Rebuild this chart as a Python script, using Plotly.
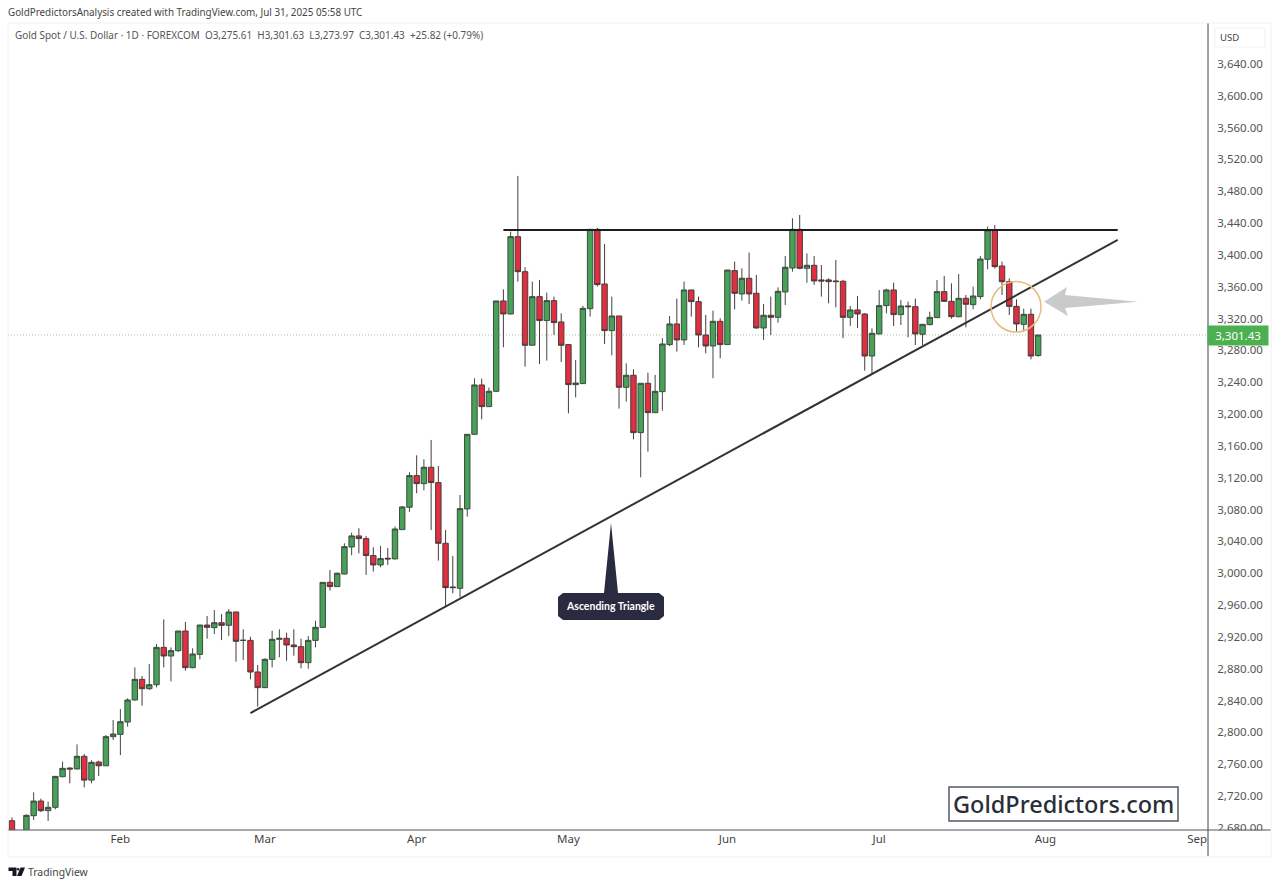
#!/usr/bin/env python3

# import modules
import plotly.graph_objs as go

# daily candles, one value per bar
opens = [2689, 2655, 2665, 2695.3, 2713.7, 2701.6, 2705.8, 2744.3, 2755.2, 2754,
         2769.9, 2740, 2762.7, 2758, 2794.6, 2797.5, 2813, 2840.7, 2866.6, 2854.9,
         2859.9, 2906.8, 2896, 2902.7, 2927.4, 2881.3, 2898, 2934.9, 2931.6, 2937.8,
         2934.5, 2951.3, 2915.6, 2915.6, 2875.9, 2856.2, 2891.8, 2916.9, 2918.2, 2909.8,
         2907.7, 2887.6, 2915.6, 2932, 2988.6, 2983.2, 2999, 3033, 3046.9, 3043.5,
         3022.2, 3010.4, 3018.8, 3018, 3054.8, 3082.9, 3122.7, 3112.6, 3133.2, 3113.9,
         3037.6, 2982.7, 2981, 3080.8, 3174.6, 3236.6, 3209.4, 3228.6, 3342.2, 3325.8,
         3423, 3379, 3286.5, 3347.6, 3317.5, 3342.6, 3315.8, 3287.3, 3237, 3238.3,
         3332.5, 3432.2, 3363.5, 3304.9, 3323.3, 3233.7, 3248.8, 3176.7, 3238.7, 3201.8,
         3228.2, 3287.3, 3313.3, 3293.2, 3356, 3341.3, 3299.4, 3285.6, 3316.6, 3287.3,
         3380.3, 3351, 3370.7, 3351.8, 3308.2, 3324.2, 3321.6, 3353.5, 3383.6, 3432.2,
         3383.2, 3387, 3368.6, 3368.6, 3367.3, 3366.9, 3321.6, 3330.9, 3325.8, 3273,
         3300.7, 3336.3, 3356, 3325, 3335.9, 3335, 3300.3, 3312.4, 3321.2, 3353.9,
         3341.7, 3322.4, 3345.5, 3337.5, 3347.6, 3394.5, 3431.4, 3386.1, 3366.4, 3335.4,
         3312.8, 3325.4, 3273.6]
highs = [2693, 2677, 2697, 2724.6, 2716.7, 2712.9, 2745, 2763.2, 2756, 2785,
         2772.8, 2765, 2764.4, 2796.7, 2815.5, 2829.3, 2842.8, 2881.7, 2870.8, 2885.9,
         2911, 2942, 2906.8, 2927.4, 2938.7, 2905.6, 2934.9, 2946.2, 2953.8, 2948.7,
         2955, 2951.3, 2929.5, 2920.2, 2884.6, 2893, 2927.8, 2929.5, 2925.3, 2929.5,
         2917.7, 2921, 2940.4, 2988.6, 3004, 3000.8, 3037.6, 3051, 3056.5, 3046.9,
         3032.6, 3034.3, 3031.8, 3058.6, 3084.6, 3126.9, 3148.2, 3143.2, 3167.5, 3134.8,
         3054.4, 3021.7, 3098.4, 3174.6, 3245, 3244.6, 3233.3, 3342.2, 3356.8, 3429.3,
         3499.3, 3384.5, 3366.5, 3368.6, 3352.6, 3347.6, 3326.7, 3288, 3268, 3336,
         3432.2, 3434, 3413.8, 3347.6, 3323.3, 3263.8, 3256.3, 3238.7, 3252.1, 3249.2,
         3295.3, 3323.3, 3345.1, 3366.5, 3356, 3347.6, 3324.6, 3330, 3320.4, 3381.1,
         3391.6, 3383.2, 3402.9, 3374.8, 3338.4, 3347.6, 3359.3, 3398.7, 3446, 3450.2,
         3402, 3398.7, 3387.4, 3370.7, 3393.7, 3368.6, 3335.9, 3348.5, 3326.7, 3307.8,
         3356, 3357.6, 3365.2, 3343.4, 3341.3, 3345.1, 3312.8, 3328.7, 3368.5, 3373.6,
         3364.3, 3376.1, 3349.7, 3360.1, 3398.7, 3435.6, 3437.6, 3391.6, 3370.6, 3344.2,
         3332.5, 3332.5, 3299.6]
lows = [2660, 2650, 2660, 2689.9, 2699.9, 2688.6, 2703.3, 2743.5, 2736, 2753.5,
        2730.9, 2736, 2745, 2757.7, 2790.4, 2771.5, 2807.2, 2839.8, 2833.5, 2853.2,
        2856.6, 2881.7, 2864.1, 2901, 2877.5, 2880.5, 2891.8, 2917.7, 2923.6, 2916,
        2921, 2888.8, 2891, 2866.6, 2832.3, 2855.7, 2881.7, 2894.3, 2890, 2896.4,
        2880.5, 2880, 2906.8, 2931.6, 2978.2, 2982.8, 2998.7, 3022.6, 3025, 2997.8,
        3002, 3007.5, 3010.4, 3017.5, 3054.4, 3077, 3100.5, 3104.2, 3054.4, 3015.9,
        2958.9, 2974.8, 2969.8, 3071.2, 3174.2, 3193.5, 3209, 3228.2, 3284, 3325.4,
        3366.5, 3259.6, 3286, 3263, 3267.2, 3299.4, 3265.5, 3201, 3221, 3237.9,
        3322.5, 3360.2, 3288.1, 3273.9, 3206.9, 3215.7, 3168.3, 3120.6, 3152.8, 3201.4,
        3204.3, 3285.6, 3278.5, 3286.9, 3322.5, 3283.9, 3276.4, 3245, 3270.1, 3286.9,
        3331.7, 3342.6, 3338.4, 3307.4, 3293.2, 3299.4, 3314.9, 3337.1, 3379, 3382,
        3365, 3362.3, 3347.6, 3339.2, 3334.2, 3295.3, 3310.8, 3308.2, 3254.6, 3251.2,
        3300.3, 3326.6, 3310.7, 3312, 3296.5, 3286.8, 3286.8, 3311.6, 3320.8, 3340.9,
        3319.9, 3321.6, 3309, 3331.7, 3344.2, 3382, 3382.8, 3349.7, 3324.5, 3303.6,
        3303.6, 3268.8, 3272]
closes = [2668, 2665, 2695.7, 2713.7, 2701.6, 2705.8, 2744.7, 2754.8, 2754, 2769.9,
          2740, 2762.3, 2758, 2794.6, 2797.9, 2813.4, 2840.7, 2866.6, 2854.9, 2859.9,
          2906.8, 2896, 2902.7, 2927.4, 2881.3, 2898.5, 2934.9, 2932, 2937.8, 2934.5,
          2951.3, 2914.4, 2915.7, 2875.9, 2856.2, 2891.8, 2916.9, 2918.2, 2909.8, 2907.7,
          2887.6, 2915.6, 2932, 2988.5, 2983.2, 3000, 3033.4, 3046.9, 3043.5, 3022.2,
          3010.4, 3018.4, 3018, 3055.6, 3083.3, 3122.7, 3112.6, 3133.2, 3113.9, 3037.6,
          2981.9, 2981.9, 3081.2, 3174.6, 3236.6, 3209.4, 3228.7, 3342.2, 3325.8, 3423,
          3379, 3286.5, 3347.6, 3317.5, 3342.6, 3315, 3286.5, 3237, 3239, 3332.9,
          3432.2, 3362.7, 3304.9, 3323.3, 3233.7, 3248.8, 3176.7, 3238.7, 3201.8, 3228.6,
          3288.1, 3313.3, 3293.2, 3356, 3341.3, 3299.4, 3285.6, 3316.6, 3287.3, 3381.1,
          3351.8, 3370.7, 3351, 3308.2, 3324.2, 3321.6, 3354.3, 3384.5, 3432.2, 3383.2,
          3387, 3367.3, 3367.3, 3366.5, 3366.5, 3321.6, 3330.9, 3325.8, 3273, 3301.5,
          3336.3, 3356, 3325, 3335.9, 3335, 3300.7, 3312.8, 3321.6, 3353.9, 3341.7,
          3322.4, 3345.5, 3338, 3348.4, 3394.9, 3431.4, 3385.3, 3366.4, 3335.4, 3313.2,
          3325.4, 3273, 3299.4]
bars = list(range(len(closes)))

# axis labels
month_bars = [15, 35, 56, 77, 99, 120, 143, 164]
month_names = ['Feb', 'Mar', 'Apr', 'May', 'Jun', 'Jul', 'Aug', 'Sep']
price_ticks = list(range(2680, 3641, 40))
last_price = closes[-1]
last_price_text = '3,301.43'

# drawn trend lines, in bar number and price
top_line_bars = [68, 153]
top_line_price = [3431.5, 3431.5]
rising_line_bars = [33, 153]
rising_line_price = [2824.3, 3418.8]

# texts
credit = 'GoldPredictorsAnalysis created with TradingView.com, Jul 31, 2025 05:58 UTC'
legend = ('Gold Spot / U.S. Dollar · 1D · FOREXCOM &nbsp;O3,275.61 &nbsp;H3,301.63 '
          '&nbsp;L3,273.97 &nbsp;C3,301.43 &nbsp;+25.82 (+0.79%)')

# figure size and plot area edges in page pixels
W, H = 1280, 887
LEFT, RIGHT, TOP, BOTTOM = 8, 1208, 23, 830
FONT = 'Noto Sans'


# screen pixels to paper fractions, only for the drawn decorations
def px(x):
    return (x - LEFT) / (RIGHT - LEFT)


def py(y):
    return (BOTTOM - y) / (BOTTOM - TOP)


def path(points):
    return 'M ' + ' L '.join(f'{px(x)} {py(y)}' for x, y in points) + ' Z'


def label(x, y, text, size=10, color='#555555', anchor='left', family=FONT, weight='normal', **kw):
    return dict(x=px(x), y=py(y), xref='paper', yref='paper', text=text, showarrow=False,
                xanchor=anchor, yanchor='middle',
                font=dict(family=family, size=size, color=color, weight=weight), **kw)


def rule(x0, y0, x1, y1, color='#444444', width=1):
    return dict(type='line', xref='paper', yref='paper', x0=px(x0), y0=py(y0), x1=px(x1), y1=py(y1),
                line=dict(color=color, width=width))


data = [go.Candlestick(x=bars, open=opens, high=highs, low=lows, close=closes,
                       whiskerwidth=0,
                       increasing=dict(fillcolor='#47A257', line=dict(color='#3F4A42', width=1)),
                       decreasing=dict(fillcolor='#E0303F', line=dict(color='#4A3A3C', width=1)))]

shapes = [
    # last price dotted line
    dict(type='line', xref='paper', yref='y', x0=0, x1=1, y0=last_price, y1=last_price,
         line=dict(color='#A9C4AA', width=1, dash='1px,2px'), layer='below'),
    # triangle sides
    dict(type='line', xref='x', yref='y', x0=top_line_bars[0], x1=top_line_bars[1],
         y0=top_line_price[0], y1=top_line_price[1], line=dict(color='#1E1E1E', width=2)),
    dict(type='line', xref='x', yref='y', x0=rising_line_bars[0], x1=rising_line_bars[1],
         y0=rising_line_price[0], y1=rising_line_price[1], line=dict(color='#333333', width=2)),
    # breakout circle and arrow
    dict(type='circle', xref='paper', yref='paper', x0=px(991), x1=px(1041), y0=py(332), y1=py(281.5),
         line=dict(color='#E9BC7C', width=1.5)),
    dict(type='path', xref='paper', yref='paper', line=dict(width=0), fillcolor='#C9CACC',
         path=path([(1044, 301.7), (1067, 287), (1065, 295), (1138, 301.7), (1065, 308), (1068, 316)])),
    # callout
    dict(type='path', xref='paper', yref='paper', line=dict(width=0), fillcolor='#2A2A40',
         path=path([(611, 523), (618, 593), (659, 593), (664, 597), (664, 616), (659, 620),
                    (563, 620), (558, 616), (558, 597), (563, 593), (604, 593)])),
    # watermark box
    dict(type='rect', xref='paper', yref='paper', x0=px(949), x1=px(1178), y0=py(821), y1=py(787),
         line=dict(color='#4F5B66', width=1.5)),
    # price scale frame
    dict(type='rect', xref='paper', yref='paper', x0=px(1209), x1=px(1271), y0=py(840), y1=py(830.5),
         line=dict(width=0), fillcolor='#FFFFFF'),
    rule(8, 830, 1271, 830, '#555555', 1),
    rule(1208, 23, 1208, 856, '#444444', 1),
    rule(8, 23, 1271, 23, '#F0F0F0', 1),
    rule(1271, 23, 1271, 857, '#F0F0F0', 1),
    rule(8, 857, 1271, 857, '#F0F0F0', 1),
    rule(8, 23, 8, 857, '#F0F0F0', 1),
    dict(type='rect', xref='paper', yref='paper', x0=px(1215), x1=px(1265), y0=py(47), y1=py(28),
         line=dict(color='#F2F2F2', width=1)),
    # TradingView logo
    dict(type='path', xref='paper', yref='paper', line=dict(width=0), fillcolor='#131722',
         path=path([(8.5, 867.5), (16.5, 867.5), (16.5, 876), (12.5, 876), (12.5, 871), (8.5, 871)])),
    dict(type='circle', xref='paper', yref='paper', x0=px(16.8), x1=px(19.4), y0=py(870.6), y1=py(868),
         line=dict(width=0), fillcolor='#131722'),
    dict(type='path', xref='paper', yref='paper', line=dict(width=0), fillcolor='#131722',
         path=path([(20.5, 867.5), (25, 867.5), (21.5, 876), (17, 876)])),
]

annotations = [
    label(6, 12, credit, size=9.85, color='#444444'),
    label(13, 35, legend, size=9.95),
    label(1218, 38, 'USD', size=9.5, color='#444444'),
    label(1238, 335.5, last_price_text, size=11.5, color='#FFFFFF', anchor='center',
          bgcolor='#4CAF50', borderpad=2, width=56),
    label(611, 605.5, 'Ascending Triangle', size=10.5, color='#FFFFFF', anchor='center',
          family='Lato', weight='bold'),
    label(1063.5, 804, 'GoldPredictors.com', size=23.5, color='#2A2E39', anchor='center', weight=500),
    label(26, 872, 'TradingView', size=10.4, color='#444444'),
]

layout = go.Layout(
    width=W, height=H, autosize=False,
    margin=dict(l=LEFT, r=W - RIGHT, t=TOP, b=H - BOTTOM),
    paper_bgcolor='white', plot_bgcolor='white', showlegend=False, boxgap=0.25, boxgroupgap=0,
    xaxis=dict(range=[-0.55, 165.5], tickvals=month_bars, ticktext=month_names, showgrid=False,
               zeroline=False, ticks='', rangeslider=dict(visible=False),
               tickfont=dict(family=FONT, size=11.5, color='#444444')),
    yaxis=dict(range=[2677.3, 3691.5], side='right', tickvals=price_ticks, tickformat=',.2f',
               showgrid=False, zeroline=False, ticks='outside', ticklen=6, tickcolor='rgba(0,0,0,0)',
               tickfont=dict(family=FONT, size=11.5, color='#555555')),
    shapes=shapes, annotations=annotations)

# combine data and layout to fig
fig = go.Figure(data=data, layout=layout)

# browser body margin off so the figure fills the window
fig.write_html("out.html", config=dict(displayModeBar=False),
               post_script="document.body.style.margin = '0';")
